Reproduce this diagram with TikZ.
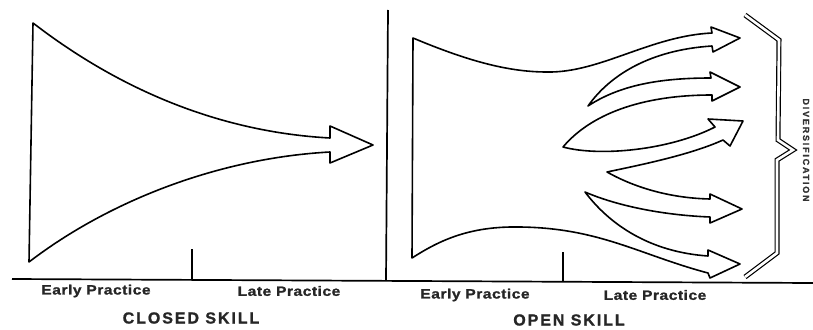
\documentclass[tikz,border=0pt]{standalone}
\usepackage{fontspec}
\setmainfont{Liberation Sans}
\newfontfamily\smallfont[FakeStretch=1.15,LetterSpace=4,FakeBold=1.2]{Liberation Sans Bold}
\newfontfamily\bigfont[LetterSpace=12,FakeBold=1.2]{Liberation Sans Bold}
\newfontfamily\sidefont[LetterSpace=20,FakeBold=1]{Liberation Sans Bold}
\begin{document}
\begin{tikzpicture}[x=1pt,y=-1pt,
  outline/.style={line width=1.6pt, line join=round},
  axis/.style={line width=1.7pt},
  lbl/.style={font=\smallfont\fontsize{13.5}{15}\selectfont, inner sep=0pt, text=black!85},
  ttl/.style={font=\bigfont\fontsize{16}{18}\selectfont, inner sep=0pt, text=black!85},
  side/.style={font=\sidefont\fontsize{9}{11}\selectfont, inner sep=0pt, text=black!80},
  bracefig/.style={line width=1.2pt, double=white, double distance=2.6pt, line join=miter}]
\useasboundingbox (0,0) rectangle (813,329);
\fill[white] (0,0) rectangle (813,329);

% axes and dividers
\coordinate (bL) at (12,279);
\coordinate (bR) at (813,283);
\draw[axis] (bL) -- (bR);
\coordinate (d1) at (388,10);
\coordinate (d2) at (386,280.5);
\draw[axis] (d1) -- (d2);
\coordinate (t1a) at (192,249);
\coordinate (t1b) at (192,279.5);
\draw[axis] (t1a) -- (t1b);
\coordinate (t2a) at (563,252);
\coordinate (t2b) at (563,281.5);
\draw[axis] (t2a) -- (t2b);

% closed skill funnel
\draw[outline] (33,23) .. controls (120,90) and (220,132) .. (330,138)
  -- (330,126) -- (373,145) -- (330,163) -- (330,152)
  .. controls (220,158) and (110,200) .. (29,262) -- cycle;

% open skill funnel with branching arrows
\draw[outline] (413,38) .. controls (470,62) and (510,72) .. (547,72)
  .. controls (600,73) and (650,36) .. (712,33)
  -- (711,27) -- (740,38) -- (713,52) -- (712,46)
  .. controls (650,50) and (610,75) .. (588,106)
  .. controls (620,85) and (660,78) .. (711,78)
  -- (710,72) -- (740,87) -- (712,101) -- (712,95)
  .. controls (640,95) and (590,115) .. (563,147)
  .. controls (600,157) and (670,150) .. (715,127)
  -- (708,119) -- (743,121) -- (730,146) -- (723,140)
  .. controls (690,155) and (640,165) .. (607,172)
  .. controls (630,185) and (665,198) .. (710,199)
  -- (710,194) -- (742,209) -- (710,223) -- (710,217)
  .. controls (660,215) and (615,205) .. (585,192)
  .. controls (610,225) and (650,252) .. (708,256)
  -- (708,250) -- (740,264) -- (710,278) -- (708,273)
  .. controls (640,255) and (600,228) .. (520,227)
  .. controls (470,226) and (440,240) .. (412,258) -- cycle;

% brace
\draw[bracefig] (745,15) -- (779,40) -- (778,140) -- (793,150) -- (777,160) -- (777,253) -- (745,277);

% labels
\node[lbl] (cep) at (96,291) {Early Practice};
\node[lbl] (clp) at (289,291) {Late Practice};
\node[ttl] (cs) at (191,318) {CLOSED SKILL};
\node[lbl] (oep) at (475,295) {Early Practice};
\node[lbl] (olp) at (655,295) {Late Practice};
\node[ttl] (os) at (569,320) {OPEN SKILL};
\node[side, rotate=-90, anchor=base] (div) at (803,150) {DIVERSIFICATION};
\end{tikzpicture}
\end{document}
